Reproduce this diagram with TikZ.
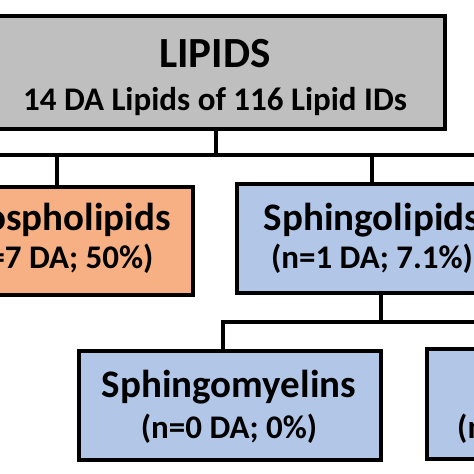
\documentclass[tikz,border=0pt]{standalone}
\usepackage{fontspec}
\setmainfont{Carlito}
\definecolor{boxgrey}{RGB}{191,191,191}
\definecolor{boxorange}{RGB}{246,176,131}
\definecolor{boxblue}{RGB}{178,199,232}
\tikzset{
  x={(1pt,0)}, y={(0,-1pt)},
  catbox/.style={draw=black, line width=3.5pt, inner sep=0pt},
  txt/.style={anchor=base, inner sep=0pt},
  link/.style={line width=4pt, line cap=rect},
}
\newcommand{\bigt}[1]{{\fontsize{43}{43}\selectfont\bfseries #1}}
\newcommand{\ttl}[1]{{\fontsize{39}{39}\selectfont\bfseries #1}}
\newcommand{\subt}[1]{{\fontsize{33}{33}\selectfont\bfseries #1}}
\begin{document}
\begin{tikzpicture}
\useasboundingbox (0,0) rectangle (474,474);
\fill[white] (0,0) rectangle (474,474);
\clip (0,0) rectangle (474,474);
% boxes
\node[catbox, fill=boxgrey, minimum width=460pt, minimum height=113pt] (lip) at (215,72.5) {};
\node[txt] (lipt) at (215,67) {\bigt{LIPIDS}};
\node[txt] (lips) at (215,110) {\subt{14 DA Lipids of 116 Lipid IDs}};
\node[catbox, fill=boxorange, minimum width=272pt, minimum height=108pt] (pho) at (57,241) {};
\node[txt] (phot) at (57,230) {\ttl{Phospholipids}};
\node[txt] (phos) at (57,268) {\subt{(n=7 DA; 50\%)}};
\node[catbox, fill=boxblue, minimum width=270pt, minimum height=109pt] (sph) at (372,238.5) {};
\node[txt] (spht) at (372,230) {\ttl{Sphingolipids}};
\node[txt] (sphs) at (372,268) {\subt{(n=1 DA; 7.1\%)}};
\node[catbox, fill=boxblue, minimum width=302pt, minimum height=109pt] (smy) at (230,405.5) {};
\node[txt] (smyt) at (229,397) {\ttl{Sphingomyelins}};
\node[txt] (smys) at (229,438) {\subt{(n=0 DA; 0\%)}};
\node[catbox, fill=boxblue, minimum width=260pt, minimum height=110pt, anchor=west] (oth) at (425,404) {};
\node[anchor=base west, inner sep=0pt] (oths) at (457,438) {\subt{(n}};
% connectors
\coordinate (barL) at (-10,155);
\coordinate (barR) at (484,155);
\coordinate (j1) at (216,155);
\coordinate (j2) at (57,155);
\coordinate (j3) at (372,155);
\coordinate (k1) at (381,322);
\coordinate (k2) at (223,322);
\coordinate (kR) at (484,322);
\draw[link] (lip.south -| j1) -- (j1);
\draw[link] (barL) -- (barR);
\draw[link] (j2) -- (pho.north -| j2);
\draw[link] (j3) -- (sph.north -| j3);
\draw[link] (sph.south -| k1) -- (k1);
\draw[link] (k2) -- (kR);
\draw[link] (k2) -- (smy.north -| k2);
\end{tikzpicture}
\end{document}
